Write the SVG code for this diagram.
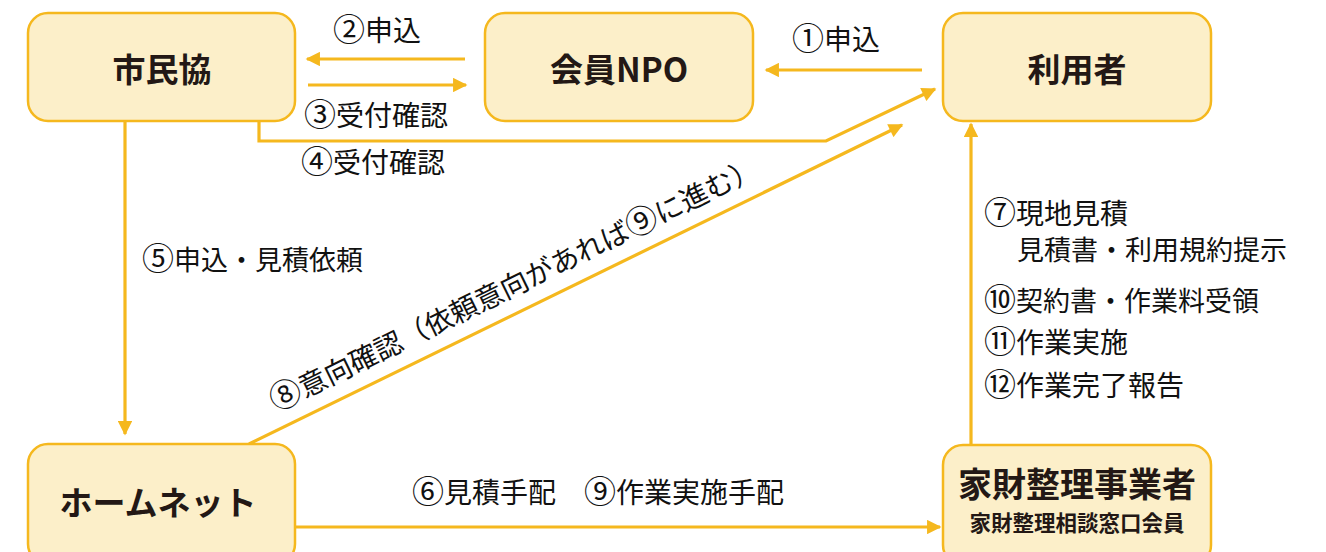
<svg xmlns="http://www.w3.org/2000/svg" width="1326" height="552" viewBox="0 0 1326 552">
<style>
.box{fill:#FCEFC9;stroke:#F5B81E;stroke-width:2.5}
.nl{font-family:"Noto Sans CJK JP",sans-serif;font-weight:700;fill:#231815;text-anchor:middle}
.lb{font-family:"Noto Sans CJK JP",sans-serif;font-size:28px;fill:#111}
.d{font-size:27px}
.c{font-size:32px}
.ln{fill:none;stroke:#F5B81E;stroke-width:3.2}
</style>
<defs>
<marker id="ah" viewBox="0 0 10 10" refX="9" refY="5" markerWidth="5" markerHeight="4.5" orient="auto" markerUnits="strokeWidth">
<path d="M0,0 L10,5 L0,10 z" fill="#F5B81E"/>
</marker>
</defs>
<rect width="1326" height="552" fill="#fff"/>
<g id="connectors">
<line class="ln" x1="465" y1="59" x2="307" y2="59" marker-end="url(#ah)"/>
<line class="ln" x1="308" y1="85" x2="466" y2="85" marker-end="url(#ah)"/>
<line class="ln" x1="922" y1="70" x2="766" y2="70" marker-end="url(#ah)"/>
<polyline class="ln" points="259,121 259,141 826,141 935,89" marker-end="url(#ah)"/>
<line class="ln" x1="249" y1="444" x2="902" y2="125" marker-end="url(#ah)"/>
<line class="ln" x1="125" y1="122" x2="125" y2="434" marker-end="url(#ah)"/>
<line class="ln" x1="295" y1="527" x2="940" y2="527" marker-end="url(#ah)"/>
<line class="ln" x1="971" y1="445" x2="971" y2="124" marker-end="url(#ah)"/>
</g>
<g id="n-shiminkyo">
<rect class="box" x="28" y="13" width="267" height="108" rx="20"/>
<text class="nl" x="162" y="82" font-size="33">市民協</text>
</g>
<g id="n-npo">
<rect class="box" x="485" y="13" width="268" height="108" rx="20"/>
<text class="nl" x="619" y="82" font-size="33">会員NPO</text>
</g>
<g id="n-user">
<rect class="box" x="943" y="13" width="268" height="108" rx="20"/>
<text class="nl" x="1077" y="82" font-size="33">利用者</text>
</g>
<g id="n-homenet">
<rect class="box" x="28" y="444" width="267" height="120" rx="20"/>
<text class="nl" x="158" y="515" font-size="33">ホームネット</text>
</g>
<g id="n-kazai">
<rect class="box" x="943" y="445" width="268" height="120" rx="20"/>
<text class="nl" x="1077" y="497" font-size="34">家財整理事業者</text>
<text class="nl" x="1077" y="531" font-size="21.5" font-weight="500">家財整理相談窓口会員</text>
</g>
<g id="labels">
<text class="lb" x="333" y="41"><tspan class="c">②</tspan>申込</text>
<text class="lb" x="304" y="126"><tspan class="c">③</tspan>受付確認</text>
<text class="lb" x="792" y="50"><tspan class="c">①</tspan>申込</text>
<text class="lb" x="301" y="173"><tspan class="c">④</tspan>受付確認</text>
<text class="lb d" x="142" y="270"><tspan class="c">⑤</tspan>申込・見積依頼</text>
<text class="lb" x="412" y="503"><tspan class="c">⑥</tspan>見積手配　<tspan class="c">⑨</tspan>作業実施手配</text>
<text class="lb" x="984" y="224"><tspan class="c">⑦</tspan>現地見積</text>
<text class="lb d" x="1017" y="260">見積書・利用規約提示</text>
<text class="lb d" x="984" y="311"><tspan class="c">⑩</tspan>契約書・作業料受領</text>
<text class="lb" x="984" y="353"><tspan class="c">⑪</tspan>作業実施</text>
<text class="lb" x="984" y="396"><tspan class="c">⑫</tspan>作業完了報告</text>
<text class="lb" x="276" y="412" transform="rotate(-26 276 412)"><tspan class="c">⑧</tspan>意向確認（依頼意向があれば<tspan class="c">⑨</tspan>に進む）</text>
</g>
</svg>
